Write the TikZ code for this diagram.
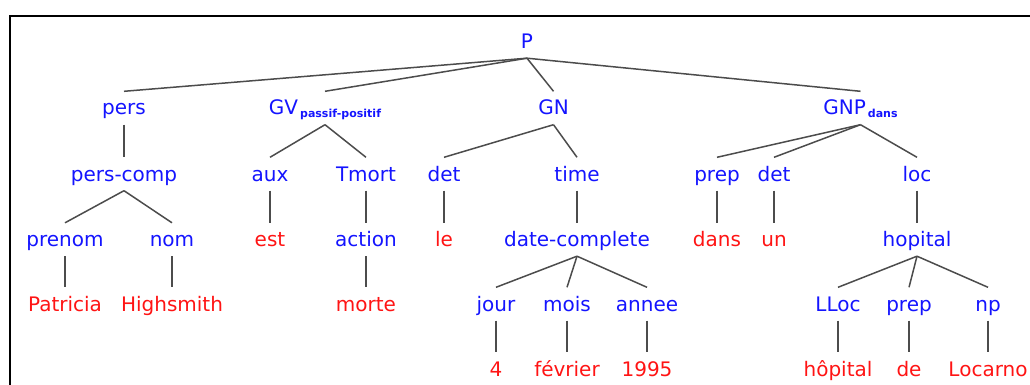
\documentclass[tikz,border=0pt]{standalone}
\usepackage{fontspec}
\setmainfont{DejaVu Sans}
\definecolor{nt}{RGB}{20,20,255}
\definecolor{tw}{RGB}{255,20,20}
\newcommand{\mysub}[1]{\hspace{2pt}\raisebox{-2.5pt}{\fontsize{11}{12}\selectfont\bfseries #1}}
\begin{document}
\begin{tikzpicture}[x=1pt,y=-1pt,
  cat/.style={anchor=base, inner sep=0pt, text height=23.5pt, text depth=9.5pt,
    font=\fontsize{20}{24}\selectfont, text=nt},
  word/.style={cat, text=tw},
  br/.style={draw=black!70, line width=1.5pt},
  frame/.style={draw=black, line width=2pt}]
\useasboundingbox (0,0) rectangle (1030,385);
\draw[frame] (1032,15.7) -- (10,15.7) -- (10,387);
% row 0
\node[cat] (P) at (527,48.5) {P};
% row 1
\node[cat] (pers) at (124,115) {pers};
\node[cat] (GV) at (325,115) {GV\mysub{passif-positif}};
\node[cat] (GN) at (553.5,115) {GN};
\node[cat] (GNP) at (860.5,115) {GNP\mysub{dans}};
% row 2
\node[cat] (perscomp) at (124,181) {pers-comp};
\node[cat] (aux) at (270,181) {aux};
\node[cat] (Tmort) at (366,181) {Tmort};
\node[cat] (detA) at (444,181) {det};
\node[cat] (time) at (577,181) {time};
\node[cat] (prepA) at (717,181) {prep};
\node[cat] (detB) at (774,181) {det};
\node[cat] (loc) at (917,181) {loc};
% row 3
\node[cat] (prenom) at (65,246.5) {prenom};
\node[cat] (nom) at (172,246.5) {nom};
\node[word] (est) at (270,246.5) {est};
\node[cat] (action) at (366,246.5) {action};
\node[word] (le) at (444,246.5) {le};
\node[cat] (datec) at (577,246.5) {date-complete};
\node[word] (dans) at (717,246.5) {dans};
\node[word] (un) at (774,246.5) {un};
\node[cat] (hopital) at (917,246.5) {hopital};
% row 4
\node[word] (patricia) at (65,311) {Patricia};
\node[word] (highsmith) at (172,311) {Highsmith};
\node[word] (morte) at (366,311) {morte};
\node[cat] (jour) at (496,311) {jour};
\node[cat] (mois) at (567,311) {mois};
\node[cat] (annee) at (647,311) {annee};
\node[cat] (LLoc) at (838,311) {LLoc};
\node[cat] (prepB) at (909,311) {prep};
\node[cat] (np) at (988,311) {np};
% row 5
\node[word] (quatre) at (496,376) {4};
\node[word] (fevrier) at (567,376) {février};
\node[word] (an) at (647,376) {1995};
\node[word] (hopw) at (838,376) {hôpital};
\node[word] (de) at (909,376) {de};
\node[word] (locarno) at (988,376) {Locarno};
% branches
\foreach \a/\b in {P/pers,P/GV,P/GN,P/GNP,
  pers/perscomp,perscomp/prenom,perscomp/nom,prenom/patricia,nom/highsmith,
  GV/aux,GV/Tmort,aux/est,Tmort/action,action/morte,
  GN/detA,GN/time,detA/le,time/datec,datec/jour,datec/mois,datec/annee,
  jour/quatre,mois/fevrier,annee/an,
  GNP/prepA,GNP/detB,GNP/loc,prepA/dans,detB/un,loc/hopital,
  hopital/LLoc,hopital/prepB,hopital/np,LLoc/hopw,prepB/de,np/locarno}
  \draw[br] (\a.south) -- (\b.north);
\end{tikzpicture}
\end{document}
